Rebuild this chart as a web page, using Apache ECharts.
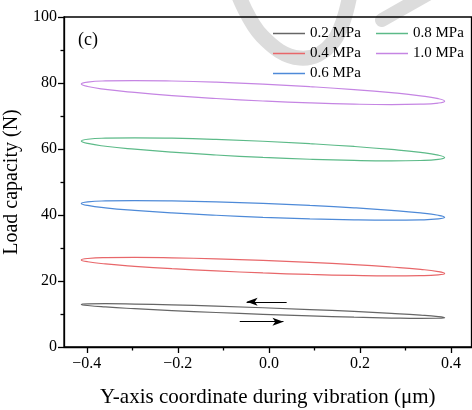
<!DOCTYPE html>
<html>
<head>
<meta charset="utf-8">
<script src="https://cdn.jsdelivr.net/npm/echarts@6/dist/echarts.min.js"></script>
<style>html,body{margin:0;padding:0;background:#fff;}#c{width:472px;height:410px;}</style>
</head>
<body>
<div id="c"></div>
<script>
// x positions of the points read along each loop (same for all loops)
const xPos = [0.386, 0.372, 0.333, 0.269, 0.187, 0.090, -0.013, -0.116, -0.213, -0.295, -0.359, -0.398,
              -0.412, -0.398, -0.359, -0.295, -0.213, -0.116, -0.013, 0.090, 0.187, 0.269, 0.333, 0.372];
// load capacity (N) read at those positions
const load02 = [8.90, 9.23, 9.67, 10.19, 10.77, 11.35, 11.90, 12.38, 12.77, 13.02, 13.13, 13.09,
                12.90, 12.57, 12.13, 11.61, 11.03, 10.45, 9.90, 9.42, 9.03, 8.78, 8.67, 8.71];
const load04 = [22.30, 22.86, 23.53, 24.24, 24.97, 25.65, 26.25, 26.72, 27.02, 27.14, 27.08, 26.82,
                26.40, 25.84, 25.18, 24.46, 23.73, 23.05, 22.45, 21.98, 21.68, 21.56, 21.63, 21.88];
const load06 = [39.30, 39.92, 40.63, 41.40, 42.17, 42.89, 43.50, 43.97, 44.27, 44.37, 44.27, 43.97,
                43.50, 42.89, 42.17, 41.40, 40.63, 39.92, 39.30, 38.83, 38.53, 38.43, 38.53, 38.83];
const load08 = [57.40, 58.12, 58.96, 59.86, 60.77, 61.62, 62.35, 62.91, 63.27, 63.40, 63.29, 62.95,
                62.40, 61.68, 60.84, 59.94, 59.03, 58.18, 57.45, 56.89, 56.53, 56.40, 56.51, 56.85];
const load10 = [74.50, 75.25, 76.12, 77.07, 78.01, 78.89, 79.65, 80.24, 80.61, 80.74, 80.63, 80.27,
                79.70, 78.95, 78.08, 77.14, 76.19, 75.31, 74.55, 73.96, 73.59, 73.46, 73.57, 73.93];
const seriesNames = ['0.2 MPa', '0.4 MPa', '0.6 MPa', '0.8 MPa', '1.0 MPa'];
const seriesColors = ['#666666', '#e8676a', '#4e8ad8', '#5cba88', '#c585e3'];
// direction arrows [from, to]
const arrows = [[[0.039, 13.7], [-0.049, 13.7]], [[-0.064, 7.67], [0.032, 7.67]]];
const xTicks = [-0.4, -0.2, 0, 0.2, 0.4];
const xMinorTicks = [-0.3, -0.1, 0.1, 0.3];

const loads = [load02, load04, load06, load08, load10];
function loopPoints(ys) {
  const pts = [];
  const n = ys.length;
  for (let i = 0; i <= n; i++) {
    const j = (i + 6) % n;
    pts.push([xPos[j], ys[j]]);
  }
  return pts;
}
const FONT = 'Liberation Serif';
const fmt = v => { const s = (Math.abs(v) < 1e-9 ? 0 : v).toFixed(1); return s.replace('-', '\u2212'); };

const series = loads.map((ys, i) => {
  const s = {
    name: seriesNames[i], type: 'line', data: loopPoints(ys), smooth: 0.5,
    showSymbol: false, symbol: 'none', color: seriesColors[i],
    lineStyle: { width: 1.2, color: seriesColors[i] }, silent: true, z: 3
  };
  if (i === 0) {
    s.markLine = {
      silent: true, symbol: ['none', 'arrow'], symbolSize: [6, 11],
      label: { show: false },
      lineStyle: { color: '#000', width: 1, type: 'solid' },
      data: arrows.map(a => [{ coord: a[0] }, { coord: a[1] }])
    };
  }
  return s;
});

const chart = echarts.init(document.getElementById('c'), null, { renderer: 'canvas' });
chart.setOption({
  animation: false,
  backgroundColor: '#fff',
  textStyle: { fontFamily: FONT, color: '#000' },
  grid: { left: 64, right: 0.5, top: 17, bottom: 63, show: true, borderColor: '#000', borderWidth: 1.3,
          backgroundColor: 'transparent', containLabel: false, outerBoundsMode: 'none' },
  legend: [
    { data: seriesNames.slice(0, 3), orient: 'vertical', left: 273, top: 26, padding: 0, itemGap: 5,
      itemWidth: 32, itemHeight: 1.5, icon: 'rect', textStyle: { fontFamily: FONT, fontSize: 15, color: '#000' } },
    { data: seriesNames.slice(3), orient: 'vertical', left: 376, top: 26, padding: 0, itemGap: 5,
      itemWidth: 32, itemHeight: 1.5, icon: 'rect', textStyle: { fontFamily: FONT, fontSize: 15, color: '#000' } }
  ],
  xAxis: [{
    type: 'value', min: -0.45, max: 0.445,
    name: 'Y-axis coordinate during vibration (\u03bcm)', nameLocation: 'middle', nameGap: 40,
    nameTextStyle: { fontFamily: FONT, fontSize: 21, color: '#000' },
    axisLine: { show: true, onZero: false, lineStyle: { color: '#000', width: 1.3 } },
    axisTick: { show: true, inside: false, length: 6, customValues: xTicks, lineStyle: { color: '#000', width: 1.3 } },
    axisLabel: { customValues: xTicks, margin: 9, fontFamily: FONT, fontSize: 16, color: '#000', formatter: fmt },
    splitLine: { show: false }
  }, {
    type: 'value', min: -0.45, max: 0.445, position: 'bottom',
    axisLine: { show: false, onZero: false },
    axisTick: { show: true, inside: false, length: 3.5, customValues: xMinorTicks, lineStyle: { color: '#000', width: 1.3 } },
    axisLabel: { show: false, customValues: xMinorTicks },
    splitLine: { show: false }
  }],
  yAxis: {
    type: 'value', min: 0, max: 100, interval: 20,
    name: 'Load capacity (N)', nameLocation: 'middle', nameGap: 29,
    nameTextStyle: { fontFamily: FONT, fontSize: 20, color: '#000' },
    axisLine: { show: true, onZero: false, lineStyle: { color: '#000', width: 1.3 } },
    axisTick: { show: true, inside: false, length: 6, lineStyle: { color: '#000', width: 1.3 } },
    minorTick: { show: true, splitNumber: 2, length: 3.5, lineStyle: { color: '#000', width: 1.3 } },
    axisLabel: { margin: 7, fontFamily: FONT, fontSize: 16, color: '#000' },
    splitLine: { show: false }
  },
  graphic: [
    { type: 'polyline', z: -10, silent: true,
      shape: { points: [[238, -6], [262, 36], [300, 58], [333, 42], [350, -6]], smooth: 0.4 },
      style: { fill: 'none', stroke: '#dcdcdc', lineWidth: 15 } },
    { type: 'line', z: -10, silent: true, shape: { x1: 382, y1: 20, x2: 428, y2: -6 },
      style: { stroke: '#dcdcdc', lineWidth: 14, lineCap: 'round' } },
    { type: 'text', left: 78, top: 31, style: { text: '(c)', font: '18px "Liberation Serif"', fill: '#000' } }
  ],
  series: series
});
</script>
</body>
</html>
